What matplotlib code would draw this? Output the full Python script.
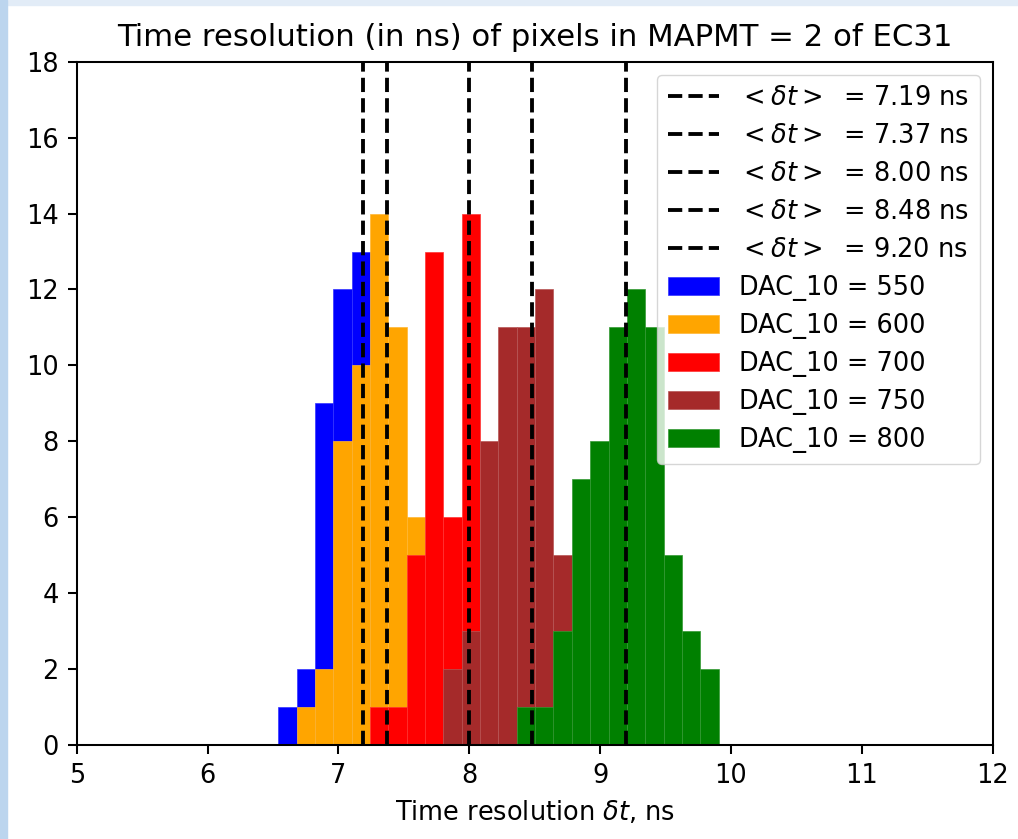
import numpy as np
import matplotlib.pyplot as plt
from matplotlib.colors import to_rgb
from matplotlib.patches import Rectangle

# common bin edges (24 bins)
bin_lo, bin_hi, n_bins = 6.541, 9.905, 24

# counts per bin (hidden parts left at 0)
dac_values = [550, 600, 700, 750, 800]
colors = ['blue', 'orange', 'red', 'brown', 'green']
counts_550 = [1, 2, 9, 12, 13, 0, 0, 0, 0, 0, 0, 0, 0, 0, 0, 0, 0, 0, 0, 0, 0, 0, 0, 0]
counts_600 = [0, 1, 2, 8, 10, 14, 11, 6, 0, 0, 0, 0, 0, 0, 0, 0, 0, 0, 0, 0, 0, 0, 0, 0]
counts_700 = [0, 0, 0, 0, 0, 1, 1, 5, 13, 6, 14, 0, 0, 0, 0, 0, 0, 0, 0, 0, 0, 0, 0, 0]
counts_750 = [0, 0, 0, 0, 0, 0, 0, 0, 0, 2, 3, 8, 11, 11, 12, 5, 0, 0, 0, 0, 0, 0, 0, 0]
counts_800 = [0, 0, 0, 0, 0, 0, 0, 0, 0, 0, 0, 0, 0, 1, 1, 3, 7, 8, 11, 12, 11, 5, 3, 2]
mean_dt = [7.19, 7.37, 8.00, 8.48, 9.20]

all_counts = [counts_550, counts_600, counts_700, counts_750, counts_800]

s = 1.848  # scale of the original figure
plt.rcParams['font.size'] = 10 * s
plt.rcParams['axes.linewidth'] = 0.8 * s
for a in ('xtick', 'ytick'):
    plt.rcParams[a + '.major.size'] = 3.5 * s
    plt.rcParams[a + '.major.width'] = 0.8 * s
    plt.rcParams[a + '.major.pad'] = 3.5 * s

fig = plt.figure(figsize=(10.18, 8.39), dpi=100)
fig.patches.append(Rectangle((0, 1 - 5 / 839), 1, 5 / 839, transform=fig.transFigure,
                             color='#e2ecf7', zorder=0))
fig.patches.append(Rectangle((0, 0), 7 / 1018, 1, transform=fig.transFigure,
                             color='#bcd5ee', zorder=0))
ax = fig.add_axes([76.7 / 1018, 1 - 745 / 839, 916 / 1018, 683.3 / 839])

edges = np.linspace(bin_lo, bin_hi, n_bins + 1)
centers = 0.5 * (edges[:-1] + edges[1:])

for m in mean_dt:
    ax.axvline(m, color='k', ls='--', lw=1.5 * s,
               label=r'$<\delta t>$  = %.2f ns' % m)

for counts, dac, c in zip(all_counts, dac_values, colors):
    seam = 0.8 * np.array(to_rgb(c)) + 0.2  # faint lighter seam between bars
    ax.hist(centers, bins=edges, weights=counts, color=c, edgecolor=seam,
            linewidth=0.5, label='DAC_10 = %d' % dac)

ax.set_xlim(5, 12)
ax.set_ylim(0, 18)
ax.set_yticks(range(0, 19, 2))
ax.set_title('Time resolution (in ns) of pixels in MAPMT = 2 of EC31', fontsize=12 * s, pad=6 * s)
ax.set_xlabel(r'Time resolution $\delta t$, ns', labelpad=4 * s)
ax.legend(loc='upper right', labelspacing=0.47)

fig.savefig('out.png', dpi=100)
